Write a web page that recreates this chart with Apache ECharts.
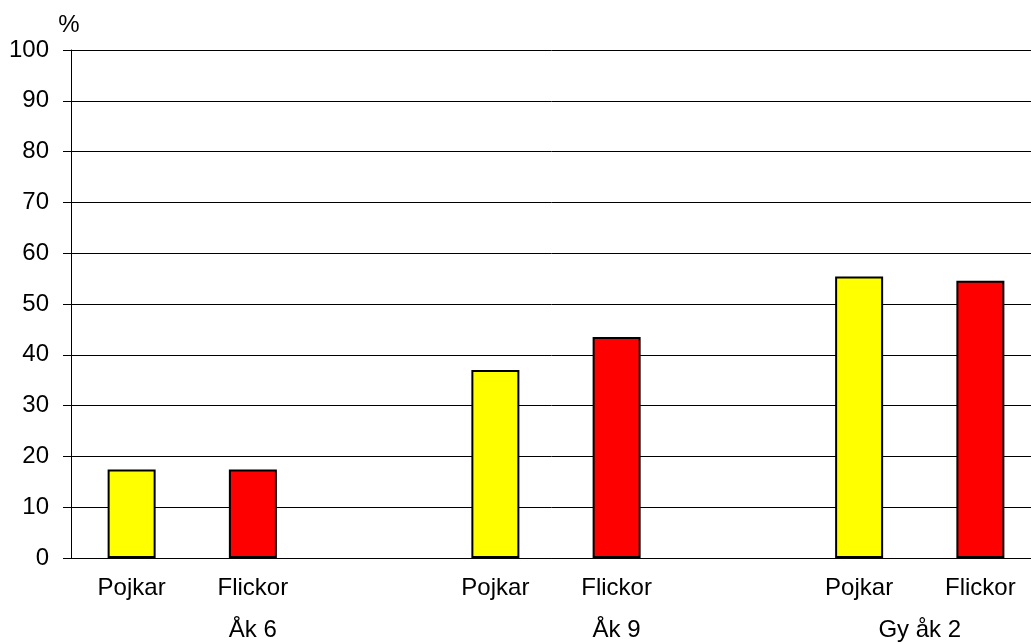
<!DOCTYPE html>
<html>
<head>
<meta charset="utf-8">
<title>Andel per årskurs och kön</title>
<script src="https://cdn.jsdelivr.net/npm/echarts@6/dist/echarts.min.js"></script>
<style>
  html, body { margin: 0; padding: 0; background: #fff; }
  #chart { width: 1031px; height: 644px; }
</style>
</head>
<body>
<div id="chart"></div>
<script>
// Grade groups and the two sub-categories shown under each bar
const groups = ['Åk 6', 'Åk 9', 'Gy åk 2'];
const genders = ['Pojkar', 'Flickor'];

// Share (%) per group
const pojkar = [17.4, 37.0, 55.4];
const flickor = [17.4, 43.5, 54.6];

// Y axis scale
const yMin = 0;
const yMax = 100;
const yStep = 10;
const yUnit = '%';

const genderColors = ['#FFFF00', '#FF0000'];

// Lay out slots: each group gets one slot per gender, plus an empty spacer
// slot between groups (none after the last group).
const slotLabels = [];
const barData = [];
const groupCenters = [];
groups.forEach((g, gi) => {
  const start = slotLabels.length;
  const values = [pojkar[gi], flickor[gi]];
  genders.forEach((name, si) => {
    slotLabels.push(name);
    barData.push({ value: values[si], itemStyle: { color: genderColors[si] } });
  });
  if (gi < groups.length - 1) {
    slotLabels.push('');
    barData.push('-');
  }
  const span = slotLabels.length - start;
  groupCenters.push({ pos: start + span / 2, name: g });
});
const slotCount = slotLabels.length;

const chart = echarts.init(document.getElementById('chart'), null, { renderer: 'canvas' });

const font = 'Liberation Sans, Arial, sans-serif';

chart.setOption({
  animation: false,
  backgroundColor: '#ffffff',
  grid: {
    left: 71, top: 50, width: 970, height: 508,
    containLabel: false,
    outerBoundsMode: 'none'
  },
  xAxis: [
    {
      type: 'category',
      data: slotLabels,
      position: 'bottom',
      axisLine: { show: true, lineStyle: { color: '#000', width: 1 } },
      axisTick: { show: false },
      axisLabel: {
        interval: 0,
        margin: 18,
        color: '#000',
        fontFamily: font,
        fontSize: 24
      },
      splitLine: { show: false }
    },
    {
      // Group names centred under the span of each group
      type: 'value',
      min: 0,
      max: slotCount,
      interval: 0.5,
      position: 'bottom',
      axisLine: { show: false },
      axisTick: { show: false },
      splitLine: { show: false },
      axisLabel: {
        margin: 60,
        color: '#000',
        fontFamily: font,
        fontSize: 24,
        showMinLabel: true,
        showMaxLabel: true,
        formatter: function (v) {
          const hit = groupCenters.find(c => Math.abs(c.pos - v) < 1e-6);
          return hit ? hit.name : '';
        }
      }
    }
  ],
  yAxis: {
    type: 'value',
    min: yMin,
    max: yMax,
    interval: yStep,
    name: yUnit,
    nameLocation: 'end',
    nameGap: 13,
    nameTextStyle: { color: '#000', fontFamily: font, fontSize: 24, align: 'center', padding: [0, 0, 0, -4] },
    axisLine: { show: true, lineStyle: { color: '#000', width: 1 } },
    axisTick: { show: true, length: 8, inside: false, lineStyle: { color: '#000', width: 1 } },
    axisLabel: { margin: 22, color: '#000', fontFamily: font, fontSize: 24 },
    splitLine: { show: true, lineStyle: { color: '#000', width: 1 } }
  },
  series: [
    {
      type: 'bar',
      xAxisIndex: 0,
      yAxisIndex: 0,
      data: barData,
      barWidth: 48,
      itemStyle: { borderColor: '#000', borderWidth: 2 },
      emphasis: { disabled: true }
    }
  ]
});
</script>
</body>
</html>
